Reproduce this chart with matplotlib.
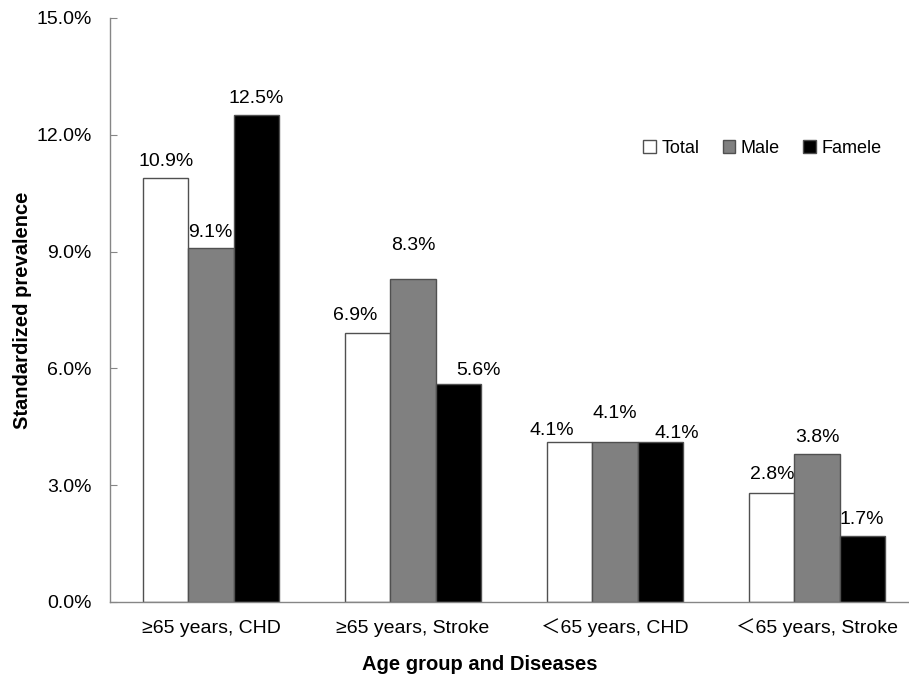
import matplotlib

matplotlib.use("Agg")
import matplotlib.pyplot as plt
import numpy as np

categories = ["≥65 years, CHD", "≥65 years, Stroke", "＜65 years, CHD", "＜65 years, Stroke"]
series_names = ["Total", "Male", "Famele"]
total = [10.9, 6.9, 4.1, 2.8]
male = [9.1, 8.3, 4.1, 3.8]
female = [12.5, 5.6, 4.1, 1.7]
y_ticks = [0.0, 3.0, 6.0, 9.0, 12.0, 15.0]

# label nudges in pixels (dx, dy), one row per series, to mimic the staggered labels
label_dx = [[0, -13, -18, 0], [-1, 0, 0, 0], [0, 20, 17, 0]]
label_dy = [[16, 18, 12, 18], [15, 33, 29, 17], [17, 13, 9, 16]]

plt.rcParams["font.family"] = ["Liberation Sans", "Noto Sans CJK SC", "DejaVu Sans"]

fig = plt.figure(figsize=(9.09, 6.79), dpi=100)
ax = fig.add_axes([110 / 909, 77 / 679, 808 / 909, 584 / 679])

x = np.arange(len(categories))
width = 0.223
colors = ["white", "#808080", "black"]
edge = "#505050"
values = [total, male, female]

for i, (name, vals, col) in enumerate(zip(series_names, values, colors)):
    pos = x + (i - 1) * width
    ax.bar(pos, vals, width, color=col, edgecolor=edge, linewidth=1.0, label=name)
    for j, v in enumerate(vals):
        ax.annotate(
            f"{v:.1f}%",
            (pos[j], v),
            xytext=(label_dx[i][j], label_dy[i][j]),
            textcoords="offset pixels",
            ha="center",
            va="center",
            fontsize=14,
            color="black",
        )

ax.set_xlim(-0.5, len(categories) - 0.5)
ax.set_ylim(0, 15)
ax.set_yticks(y_ticks)
ax.set_yticklabels([f"{t:.1f}%" for t in y_ticks], fontsize=14)
ax.set_xticks(x)
ax.set_xticklabels(categories, fontsize=14, va="baseline")

ax.tick_params(axis="y", direction="in", length=5, color="#868686", pad=13)
ax.tick_params(axis="x", length=0, pad=22.5)

for side in ["top", "right"]:
    ax.spines[side].set_visible(False)
for side in ["left", "bottom"]:
    ax.spines[side].set_color("#868686")
    ax.spines[side].set_linewidth(1.0)

ax.set_ylabel("Standardized prevalence", fontsize=14.5, fontweight="bold")
ax.yaxis.set_label_coords(-0.097, 0.5)
ax.set_xlabel("Age group and Diseases", fontsize=14.5, fontweight="bold")
ax.xaxis.set_label_coords(0.458, -0.09)

ax.legend(
    loc="center left",
    bbox_to_anchor=(0.66, 0.777),
    ncol=3,
    frameon=False,
    fontsize=13,
    handlelength=0.7,
    handleheight=0.7,
    handletextpad=0.3,
    columnspacing=1.3,
    borderpad=0,
    borderaxespad=0,
)

fig.savefig("out.png", dpi=100)
